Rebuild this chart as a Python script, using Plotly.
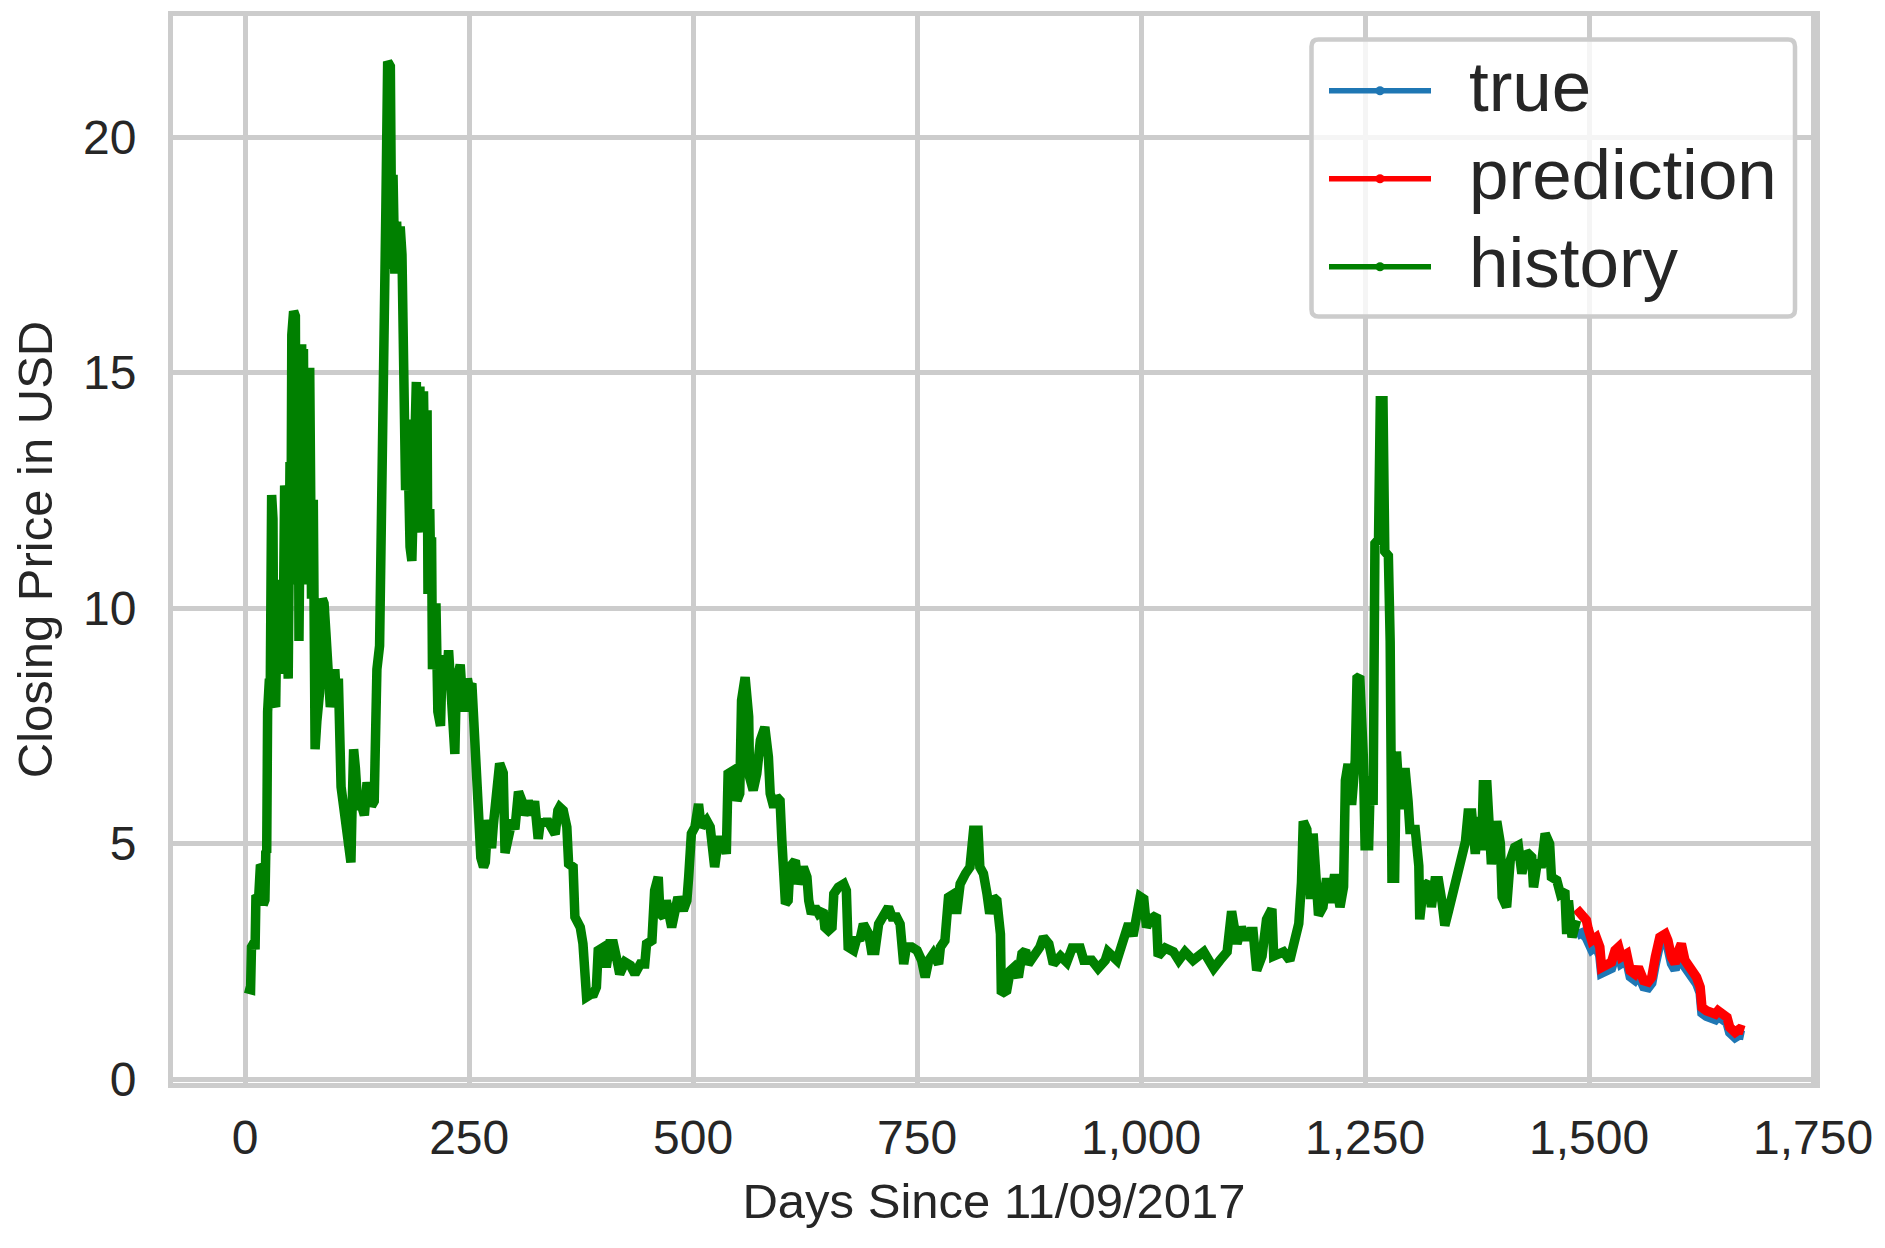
import plotly.graph_objects as go

# history (green): days since 11/09/2017 and closing price in USD
hist_day = [
    0, 4, 6, 7, 10, 11, 12, 15, 17, 19, 20, 22, 23, 24, 25, 27, 28, 29.5, 31, 32,
    34, 36, 37, 38, 40, 42, 44, 45, 47, 48, 50, 51, 52, 54, 56, 57, 59, 60, 62, 63,
    64, 65, 66, 68, 70, 72, 74, 76, 77, 78, 80, 83, 86, 88, 90, 92, 95, 97, 100, 102,
    104, 107, 110, 113, 115, 118, 119, 121, 123, 125, 127, 130, 133, 136, 138, 141, 144, 145, 147, 150,
    152, 154, 155, 157, 159, 162, 163, 164, 165, 167, 169, 171, 173, 175, 176, 178, 179, 181, 182, 184,
    186, 187, 189, 191, 193, 195, 197, 199, 201, 203, 204, 206, 207, 208, 209, 211, 213, 215, 218, 220,
    222, 224, 227, 229, 232, 234, 236, 238, 240, 242, 244, 245, 248, 250, 253, 256, 258, 260, 263, 266,
    268, 271, 273, 275, 277, 279, 282, 284, 286, 288, 290, 292, 294, 296, 298, 301, 303, 305, 307, 309,
    311, 313, 316, 318, 320, 323, 325, 327, 329, 331, 334, 337, 340, 343, 346, 349, 351, 355, 359, 361,
    366, 368, 374, 377, 381, 386, 389, 392, 394, 400, 403, 407, 411, 415, 418, 424, 430, 435, 441, 446,
    448, 454, 457, 461, 463, 467, 470, 476, 480, 483, 489, 493, 495, 498, 502, 506, 509, 515, 519, 521,
    524, 528, 534, 537, 539, 545, 549, 552, 554, 558, 562, 563, 567, 571, 575, 580, 584, 586, 590, 593,
    597, 599, 603, 606, 608, 614, 617, 623, 627, 629, 632, 636, 640, 645, 647, 651, 655, 657, 662, 668,
    671, 673, 679, 683, 686, 690, 696, 699, 703, 707, 712, 718, 722, 727, 731, 735, 738, 744, 750, 755,
    759, 763, 768, 774, 776, 781, 785, 791, 794, 798, 804, 809, 813, 818, 820, 824, 828, 831, 835, 839,
    843, 844, 850, 854, 858, 863, 867, 871, 874, 880, 887, 891, 897, 902, 910, 917, 923, 932, 936, 945,
    952, 960, 963, 973, 978, 986, 991, 999, 1003, 1006, 1010, 1017, 1019, 1027, 1036, 1042, 1049, 1058, 1070, 1081,
    1088, 1096, 1101, 1107, 1112, 1118, 1122, 1125, 1129, 1135, 1140, 1146, 1148, 1155, 1159, 1166, 1172, 1176, 1179, 1181,
    1185, 1189, 1192, 1194, 1198, 1203, 1207, 1211, 1216, 1222, 1226, 1228, 1231, 1235, 1239, 1241, 1244, 1248, 1250, 1254,
    1256, 1259, 1261, 1265, 1267, 1270, 1272, 1276, 1278, 1280, 1283, 1285, 1289, 1291, 1295, 1298, 1300, 1306, 1310, 1311,
    1315, 1321, 1324, 1328, 1332, 1336, 1339, 1343, 1347, 1350, 1354, 1358, 1362, 1365, 1369, 1373, 1377, 1380, 1382, 1386,
    1390, 1391, 1397, 1401, 1403, 1408, 1412, 1417, 1421, 1425, 1430, 1436, 1438, 1442, 1447, 1451, 1456, 1458, 1464, 1468,
    1473, 1475, 1477, 1481, 1484, 1486,
]
hist_price = [
    1.93, 1.88, 1.9, 2.8, 2.9, 2.75, 3.9, 3.85, 4.55, 4.5, 3.7, 3.8, 4.85, 4.8, 7.8, 8.5, 8.4, 12.4, 11.9, 8.0,
    7.9, 10.6, 9.0, 8.7, 10.5, 8.6, 12.6, 12.4, 9.3, 8.5, 13.1, 11.0, 15.8, 16.3, 16.2, 10.5, 15.5, 9.3, 13.0, 15.6,
    10.5, 15.5, 12.6, 15.0, 11.5, 15.1, 10.2, 12.3, 9.5, 7.0, 7.6, 8.2, 10.2, 10.1, 9.5, 8.3, 7.9, 8.1, 8.7, 8.0,
    8.5, 6.2, 5.8, 5.3, 5.0, 4.6, 5.5, 7.0, 6.6, 6.0, 5.8, 5.8, 5.6, 6.3, 6.1, 5.8, 5.9, 8.1, 8.7, 9.2,
    11.5, 12.7, 15.3, 18.5, 21.6, 21.5, 19.0, 17.2, 19.2, 17.1, 18.2, 17.3, 18.1, 17.5, 15.7, 14.8, 12.5, 14.0, 12.2, 11.3,
    11.0, 12.4, 12.8, 14.8, 11.6, 14.7, 12.0, 14.6, 11.9, 14.2, 10.3, 12.1, 10.8, 11.5, 8.7, 10.0, 10.0, 7.8, 7.5, 9.0,
    8.5, 8.3, 9.1, 8.5, 7.1, 6.9, 8.7, 8.6, 8.8, 8.2, 8.5, 7.8, 8.5, 8.3, 8.4, 7.4, 7.1, 5.6, 4.7, 4.5,
    4.6, 5.5, 5.0, 4.9, 5.4, 5.9, 6.4, 6.7, 6.6, 6.5, 4.8, 5.0, 5.0, 5.4, 5.5, 5.3, 5.9, 6.1, 6.0, 5.9,
    5.6, 5.8, 5.9, 5.8, 5.6, 5.9, 5.5, 5.1, 5.4, 5.5, 5.4, 5.5, 5.4, 5.3, 5.2, 5.7, 5.77, 5.7, 5.35, 4.57,
    4.5, 3.44, 3.22, 2.87, 1.74, 1.8, 1.81, 1.95, 2.73, 2.8, 2.37, 2.87, 2.87, 2.52, 2.23, 2.48, 2.41, 2.23, 2.44, 2.44,
    2.87, 2.94, 4.0, 4.29, 3.51, 3.44, 3.79, 3.22, 3.79, 3.86, 3.58, 3.79, 4.29, 5.21, 5.35, 5.84, 5.35, 5.49, 5.35, 4.78,
    4.5, 5.07, 5.07, 4.78, 6.48, 6.55, 5.91, 6.06, 8.04, 8.53, 7.69, 6.41, 6.13, 6.48, 7.19, 7.47, 6.84, 6.06, 5.77, 5.99,
    5.91, 5.07, 3.72, 3.79, 4.5, 4.64, 4.14, 4.5, 4.29, 3.79, 3.51, 3.65, 3.51, 3.58, 3.22, 3.15, 3.22, 3.93, 4.07, 4.14,
    4.0, 2.8, 2.73, 3.01, 2.94, 3.29, 3.08, 2.73, 2.73, 3.29, 3.51, 3.65, 3.44, 3.44, 3.29, 2.44, 2.8, 2.8, 2.73, 2.52,
    2.16, 2.52, 2.66, 2.44, 2.8, 2.94, 3.86, 3.93, 3.51, 4.14, 4.36, 4.5, 5.28, 5.28, 4.5, 4.36, 3.93, 3.51, 3.86, 3.79,
    3.08, 1.81, 1.88, 2.3, 2.37, 2.16, 2.66, 2.73, 2.44, 2.59, 2.8, 3.01, 2.87, 2.44, 2.61, 2.48, 2.78, 2.78, 2.52, 2.52,
    2.35, 2.52, 2.7, 2.52, 2.78, 3.3, 3.04, 3.87, 3.82, 3.22, 3.39, 3.48, 2.61, 2.78, 2.7, 2.52, 2.7, 2.52, 2.7, 2.35,
    2.52, 2.7, 3.56, 2.87, 3.22, 2.96, 3.13, 3.13, 2.31, 2.61, 3.39, 3.61, 2.61, 2.7, 2.7, 2.52, 2.96, 3.3, 4.17, 5.47,
    5.3, 3.82, 5.21, 4.43, 3.48, 3.65, 4.26, 3.74, 4.34, 3.65, 4.08, 6.34, 6.69, 5.82, 6.77, 8.51, 8.55, 6.86, 4.95, 4.95,
    6.43, 5.82, 11.37, 11.46, 14.4, 14.4, 11.2, 11.11, 9.29, 4.26, 4.26, 6.95, 5.73, 6.51, 6.51, 5.9, 5.3, 5.3, 4.52, 3.39,
    4.08, 4.17, 3.65, 4.21, 4.21, 3.74, 3.26, 3.56, 3.87, 4.08, 4.43, 4.6, 5.04, 5.65, 5.65, 4.78, 5.56, 4.86, 6.25, 6.25,
    4.86, 4.56, 5.47, 5.0, 3.86, 3.65, 4.64, 4.92, 4.96, 4.36, 4.82, 4.71, 4.07, 4.57, 4.57, 5.21, 4.99, 4.29, 4.22, 3.93,
    4.0, 3.08, 3.79, 3.01, 3.22, 3.37,
]

# prediction (red) and true (blue) over the test window
pred_day = [
    1486, 1492, 1497, 1499, 1503, 1508, 1512, 1514, 1520, 1525, 1529, 1533, 1536, 1542, 1546,
    1551, 1555, 1561, 1566, 1570, 1574, 1577, 1579, 1585, 1588, 1592, 1596, 1600, 1603, 1607,
    1611, 1615, 1620, 1624, 1626, 1631, 1637, 1641, 1644, 1648, 1654, 1657, 1663, 1668, 1673,
]
pred_price = [
    3.61, 3.51, 3.37, 3.19, 2.94, 3.01, 2.8, 2.37, 2.41, 2.48, 2.73, 2.8, 2.59, 2.66, 2.3,
    2.23, 2.37, 2.09, 2.06, 2.16, 2.59, 2.8, 3.01, 3.08, 2.94, 2.59, 2.45, 2.73, 2.87, 2.52,
    2.41, 2.3, 2.16, 1.95, 1.52, 1.45, 1.42, 1.38, 1.45, 1.38, 1.31, 1.1, 0.99, 1.06, 1.03,
]
true_day = pred_day
true_price = [
    3.05, 3.1, 3.0, 2.9, 2.75, 2.82, 2.62, 2.25, 2.28, 2.35, 2.6, 2.68, 2.45, 2.52, 2.17,
    2.1, 2.22, 1.96, 1.94, 2.04, 2.45, 2.66, 2.88, 2.95, 2.8, 2.45, 2.32, 2.6, 2.74, 2.38,
    2.28, 2.16, 2.03, 1.83, 1.4, 1.33, 1.31, 1.26, 1.33, 1.27, 1.2, 0.99, 0.88, 0.94, 0.92,
]

series_names = ["true", "prediction", "history"]
series_colors = ["#1f77b4", "#ff0000", "#008000"]

x_ticks = [0, 250, 500, 750, 1000, 1250, 1500, 1750]
y_ticks = [0, 5, 10, 15, 20]

# the page body keeps an 8px margin, so the figure is a bit smaller than the window
OFF = 8
W, H = 1885 - 2 * OFF, 1248 - 2 * OFF
M_L, M_R, M_T, M_B = 165, 62, 8, 157
PW, PH = W - M_L - M_R, H - M_T - M_B

FONT = "Liberation Sans, Arial, sans-serif"
TXT = "#262626"
GRID = "#cccccc"


def px_x(x):
    # window pixel -> paper x
    return (x - OFF - M_L) / PW


def px_y(y):
    # window pixel -> paper y
    return (OFF + H - M_B - y) / PH


fig = go.Figure()
for days, price, name, color in zip(
    [true_day, pred_day, hist_day],
    [true_price, pred_price, hist_price],
    series_names, series_colors,
):
    fig.add_trace(go.Scatter(
        x=days, y=price, name=name, mode="lines",
        line=dict(color=color, width=9.5), showlegend=False,
    ))

axis_style = dict(
    showgrid=True, gridcolor=GRID, gridwidth=5,
    showline=True, linecolor=GRID, linewidth=5, mirror=True,
    zeroline=False, ticks="", automargin=False,
    tickfont=dict(family=FONT, size=48, color=TXT),
)

fig.update_layout(
    width=W, height=H,
    margin=dict(l=M_L, r=M_R, t=M_T, b=M_B, autoexpand=False),
    paper_bgcolor="white", plot_bgcolor="white",
    font=dict(family=FONT, color=TXT),
    xaxis=dict(
        axis_style, range=[-80.6, 1752.2], tickvals=x_ticks, tickformat=",d",
        ticklabelstandoff=8,
        title=dict(text="Days Since 11/09/2017", font=dict(family=FONT, size=49, color=TXT), standoff=23),
    ),
    yaxis=dict(
        axis_style, range=[-0.085, 22.57], tickvals=y_ticks,
        ticklabelstandoff=22,
        title=dict(text="Closing Price in USD", font=dict(family=FONT, size=49, color=TXT), standoff=26),
    ),
)

# legend box drawn by hand (matplotlib-style: long line samples with a dot)
bx0, bx1, by0, by1 = px_x(1311.5), px_x(1795), px_y(316.5), px_y(39.5)
rx, ry = 7 / PW, 7 / PH
box_path = (
    f"M {bx0 + rx},{by1} L {bx1 - rx},{by1} Q {bx1},{by1} {bx1},{by1 - ry} "
    f"L {bx1},{by0 + ry} Q {bx1},{by0} {bx1 - rx},{by0} "
    f"L {bx0 + rx},{by0} Q {bx0},{by0} {bx0},{by0 + ry} "
    f"L {bx0},{by1 - ry} Q {bx0},{by1} {bx0 + rx},{by1} Z"
)
fig.add_shape(type="path", path=box_path, xref="paper", yref="paper",
              fillcolor="rgba(255,255,255,0.8)", line=dict(color=GRID, width=4.5))

row_y = [90.7, 178.7, 266.7]
for name, color, yc in zip(series_names, series_colors, row_y):
    fig.add_shape(type="line", xref="paper", yref="paper",
                  x0=px_x(1329), x1=px_x(1431), y0=px_y(yc), y1=px_y(yc),
                  line=dict(color=color, width=5.5))
    fig.add_shape(type="circle", xref="paper", yref="paper",
                  x0=px_x(1375.5), x1=px_x(1384.5), y0=px_y(yc + 4.5), y1=px_y(yc - 4.5),
                  fillcolor=color, line=dict(color=color, width=0))
    fig.add_annotation(text=name, xref="paper", yref="paper",
                       x=px_x(1467), y=px_y(yc - 4), xanchor="left", yanchor="middle",
                       showarrow=False, font=dict(family=FONT, size=71, color=TXT))

fig.write_html("out.html")
